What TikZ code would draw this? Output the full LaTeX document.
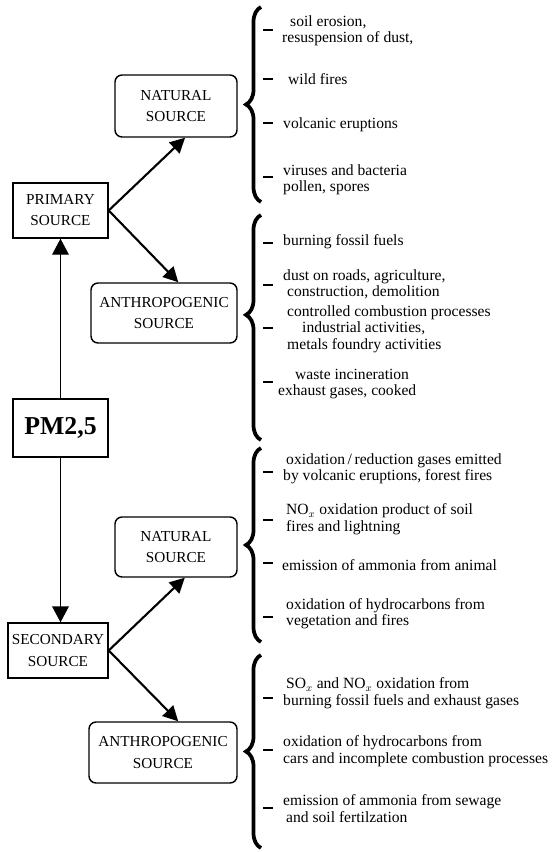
\documentclass[tikz,border=0pt]{standalone}
\usepackage{fontspec}
\setmainfont{Liberation Serif}
\usetikzlibrary{arrows.meta,calc,positioning,decorations.pathreplacing}

\tikzset{
  srcbox/.style={draw, line width=1.2pt, align=center, inner sep=2pt, font=\fontsize{13}{18}\selectfont},
  natbox/.style={srcbox, rounded corners=6pt},
  pmbox/.style={draw, line width=1.2pt, minimum width=2.85cm, minimum height=1.74cm, font=\fontsize{22}{26}\selectfont\bfseries},
  item/.style={anchor=west, align=left, inner sep=0pt, font=\fontsize{13.3}{14}\selectfont},
  grp/.style={decorate, decoration={brace, amplitude=0.45cm, aspect=#1}, line width=3.2pt},
  grp/.default=0.5,
  itemdash/.style={line width=1.8pt},
  link/.style={-{Triangle[length=0.45cm, width=0.45cm]}, line width=1.8pt},
  uplink/.style={-{Triangle[length=0.48cm, width=0.5cm]}, line width=1.2pt}
}

\begin{document}
\begin{tikzpicture}[x=0.03cm, y=-0.03cm]
    \useasboundingbox (0,0) rectangle (554,852);

    % sources
    \node[pmbox] (pm) at (60.5,428) {PM2,5};
    \node[srcbox, minimum width=2.85cm, minimum height=1.65cm] (prim) at (60.5,210.5) {PRIMARY\\SOURCE};
    \node[srcbox, minimum width=3cm, minimum height=1.65cm] (sec) at (58,650.5) {SECONDARY\\SOURCE};
    \node[natbox, minimum width=3.66cm, minimum height=1.86cm] (nat1) at (176,106) {NATURAL\\SOURCE};
    \node[natbox, minimum width=4.38cm, minimum height=1.8cm] (ant1) at (164,313) {ANTHROPOGENIC\\SOURCE};
    \node[natbox, minimum width=3.66cm, minimum height=1.8cm] (nat2) at (176,547) {NATURAL\\SOURCE};
    \node[natbox, minimum width=4.44cm, minimum height=1.83cm] (ant2) at (163,752.5) {ANTHROPOGENIC\\SOURCE};

    \draw[uplink] (pm.north) -- (prim.south);
    \draw[uplink] (pm.south) -- (pm.south |- sec.north);
    \draw[link] (prim.east) -- (nat1.-74);
    \draw[link] (prim.east) -- (ant1.65);
    \draw[link] (sec.east) -- (nat2.-74);
    \draw[link] (sec.east) -- (ant2.64);

    % braces and dashes
    \draw[grp] (261,202) -- (261,7);
    \draw[grp=0.556] (261,440) -- (261,215);
    \draw[grp] (261,642) -- (261,448);
    \draw[grp] (261,848) -- (261,655);
    \foreach \y in {30,79,123,177,243,285,328,382,472,520,563,617,698,750,808}
        \draw[itemdash] (263,\y) -- (273,\y);

    % primary, natural
    \node[item] (pn1) at (282,31) {\hspace*{0.24cm}soil erosion,\\resuspension of dust,};
    \node[item] (pn2) at (288,79) {wild fires};
    \node[item] (pn3) at (283,125) {volcanic eruptions};
    \node[item] (pn4) at (283,179.5) {viruses and bacteria\\pollen, spores};
    % primary, anthropogenic
    \node[item] (pa1) at (283,242) {burning fossil fuels};
    \node[item] (pa2) at (283,284.5) {dust on roads, agriculture,\\\hspace*{0.12cm}construction, demolition};
    \node[item] (pa3) at (287,329) {controlled combustion processes\\\hspace*{0.45cm}industrial activities,\\metals foundry activities};
    \node[item] (pa4) at (278,384) {\hspace*{0.51cm}waste incineration\\exhaust gases, cooked};
    % secondary, natural
    \node[item] (sn1) at (283,468.5) {\hspace*{0.09cm}oxidation\,/\,reduction gases emitted\\by volcanic eruptions, forest fires};
    \node[item] (sn2) at (286,519) {NO$_x$ oxidation product of soil\\fires and lightning};
    \node[item] (sn3) at (282,565) {emission of ammonia from animal};
    \node[item] (sn4) at (286,613.5) {oxidation of hydrocarbons from\\vegetation and fires};
    % secondary, anthropogenic
    \node[item] (sa1) at (283,693) {\hspace*{0.09cm}SO$_x$ and NO$_x$ oxidation from\\burning fossil fuels and exhaust gases};
    \node[item] (sa2) at (283,751) {oxidation of hydrocarbons from\\cars and incomplete combustion processes};
    \node[item] (sa3) at (283,808.5) {emission of ammonia from sewage\\\hspace*{0.09cm}and soil fertilzation};
\end{tikzpicture}
\end{document}
